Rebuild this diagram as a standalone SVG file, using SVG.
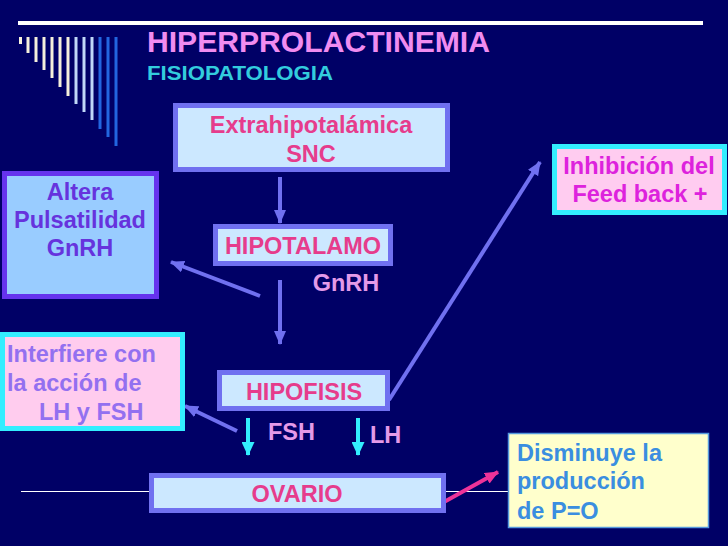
<svg xmlns="http://www.w3.org/2000/svg" width="728" height="546" viewBox="0 0 728 546">
<defs>
<style>
.t{font-family:"Liberation Sans",Arial,sans-serif;font-weight:bold;font-size:23.5px}
.c{text-anchor:middle}
.pk{fill:#E63C8C}
.box{fill:#CCE8FF;stroke:#7070F0;stroke-width:5}
.conn{stroke:#7070F0;stroke-width:4;fill:none}
.cy{stroke:#33EEFF;stroke-width:4;fill:none}
.lbl{fill:#E49AE8}
</style>
<marker id="ah" markerUnits="userSpaceOnUse" viewBox="0 0 14 12" refX="13" refY="6" markerWidth="14" markerHeight="12" orient="auto"><path d="M0,0 L14,6 L0,12 z" fill="#7070F0"/></marker>
<marker id="ahc" markerUnits="userSpaceOnUse" viewBox="0 0 14 13" refX="13" refY="6.5" markerWidth="14" markerHeight="13" orient="auto"><path d="M0,0 L14,6.5 L0,13 z" fill="#33EEFF"/></marker>
<marker id="ahp" markerUnits="userSpaceOnUse" viewBox="0 0 14 12" refX="13" refY="6" markerWidth="14" markerHeight="12" orient="auto"><path d="M0,0 L14,6 L0,12 z" fill="#EE3399"/></marker>
</defs>
<rect width="728" height="546" fill="#000066"/>
<g id="decor">
<rect x="18" y="21" width="685" height="4" fill="#FFFFFF"/>
<g fill="#F5F0DC">
<rect x="19" y="37" width="3" height="7"/>
<rect x="26.5" y="37" width="3" height="16"/>
<rect x="34.5" y="37" width="3" height="25"/>
<rect x="42.5" y="37" width="3" height="33"/>
<rect x="50.5" y="37" width="3" height="41"/>
<rect x="58.5" y="37" width="3" height="50"/>
<rect x="66.5" y="37" width="3" height="59"/>
</g>
<g fill="#C0D8F8">
<rect x="74.5" y="37" width="3" height="67"/>
<rect x="82.5" y="37" width="3" height="75"/>
<rect x="90.5" y="37" width="3" height="83"/>
</g>
<g fill="#2266E0">
<rect x="98.5" y="37" width="3" height="92"/>
<rect x="106.5" y="37" width="3" height="100"/>
<rect x="114.5" y="37" width="3" height="109"/>
</g>
<line x1="21" y1="491.5" x2="510" y2="491.5" stroke="#FFFFFF" stroke-width="1"/>
</g>
<g id="title">
<text x="147" y="52" font-family="Liberation Sans, Arial, sans-serif" font-weight="bold" font-size="30" fill="#F08CF0" textLength="343" lengthAdjust="spacingAndGlyphs">HIPERPROLACTINEMIA</text>
<text x="147" y="80" font-family="Liberation Sans, Arial, sans-serif" font-weight="bold" font-size="20" fill="#33CCDD" textLength="186" lengthAdjust="spacingAndGlyphs">FISIOPATOLOGIA</text>
</g>
<g id="connectors">
<line class="conn" x1="280" y1="177" x2="280" y2="223" marker-end="url(#ah)"/>
<line class="conn" x1="280" y1="280" x2="280" y2="344" marker-end="url(#ah)"/>
<line class="conn" x1="260" y1="296" x2="171" y2="262" marker-end="url(#ah)"/>
<line class="conn" x1="237" y1="431" x2="185" y2="406" marker-end="url(#ah)"/>
<line class="conn" x1="389" y1="400" x2="540" y2="162" marker-end="url(#ah)"/>
<line class="cy" x1="248" y1="418" x2="248" y2="455" marker-end="url(#ahc)"/>
<line class="cy" x1="358" y1="418" x2="358" y2="455" marker-end="url(#ahc)"/>
<line x1="444" y1="502" x2="498" y2="472" stroke="#EE3399" stroke-width="4" marker-end="url(#ahp)"/>
</g>
<g id="extrahipotalamica">
<rect class="box" x="175.5" y="105.5" width="272" height="64"/>
<text class="t c pk" x="311" y="133">Extrahipotalámica</text>
<text class="t c pk" x="311" y="162">SNC</text>
</g>
<g id="hipotalamo">
<rect class="box" x="215.5" y="226.5" width="175" height="37"/>
<text class="t c pk" x="303" y="254">HIPOTALAMO</text>
</g>
<g id="gnrh-label">
<text class="t c lbl" x="346" y="291">GnRH</text>
</g>
<g id="altera">
<rect x="4.5" y="173.5" width="152" height="123" fill="#99CCFF" stroke="#6633EE" stroke-width="5"/>
<text class="t c" x="80" y="200" fill="#6633DD">Altera</text>
<text class="t c" x="80" y="228" fill="#6633DD">Pulsatilidad</text>
<text class="t c" x="80" y="256" fill="#6633DD">GnRH</text>
</g>
<g id="hipofisis">
<rect class="box" x="219.5" y="372.5" width="168" height="36"/>
<text class="t c pk" x="304" y="400">HIPOFISIS</text>
</g>
<g id="interfiere">
<rect x="2.5" y="334.5" width="180" height="94" fill="#FFCCEE" stroke="#33EEFF" stroke-width="5"/>
<text class="t" x="7" y="362" fill="#9370F0">Interfiere con</text>
<text class="t" x="7" y="391" fill="#9370F0">la acción de</text>
<text class="t" x="39" y="420" fill="#9370F0">LH y FSH</text>
</g>
<g id="fsh-label"><text class="t lbl" x="268" y="440">FSH</text></g>
<g id="lh-label"><text class="t lbl" x="370" y="443">LH</text></g>
<g id="ovario">
<rect class="box" x="151.5" y="475.5" width="292" height="35"/>
<text class="t c pk" x="297" y="502">OVARIO</text>
</g>
<g id="inhibicion">
<rect x="554.5" y="146.5" width="170" height="66" fill="#FFCCF0" stroke="#33EEFF" stroke-width="5"/>
<text class="t c" x="639" y="174" fill="#DD22DD">Inhibición del</text>
<text class="t c" x="640" y="202" fill="#DD22DD">Feed back +</text>
</g>
<g id="disminuye">
<rect x="508.5" y="433.5" width="200" height="94" fill="#FFFFCC" stroke="#5599DD" stroke-width="1.5"/>
<text class="t" x="517" y="461" fill="#3A8EE0">Disminuye la</text>
<text class="t" x="517" y="489" fill="#3A8EE0">producción</text>
<text class="t" x="517" y="519" fill="#3A8EE0">de P=O</text>
</g>
</svg>
